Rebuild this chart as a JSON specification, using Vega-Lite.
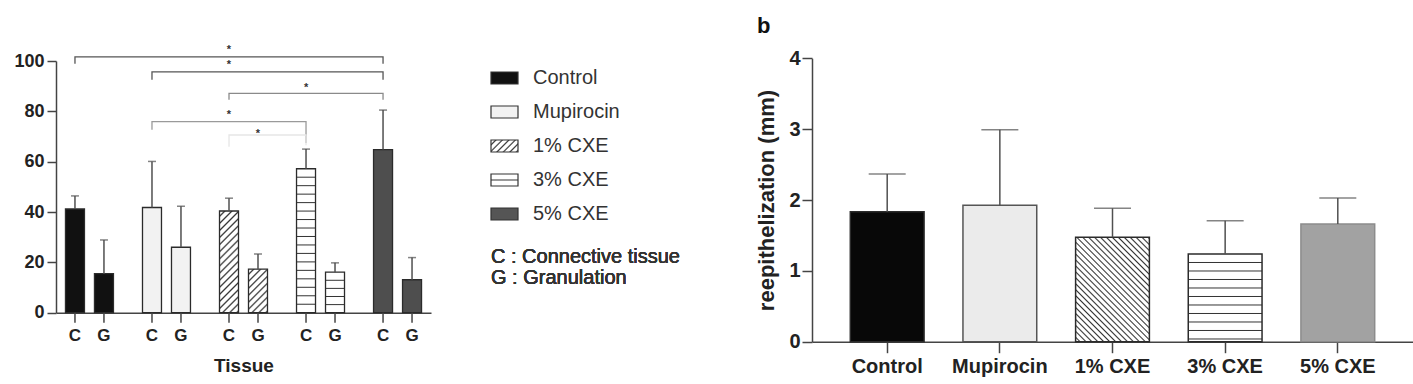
{
  "$schema": "https://vega.github.io/schema/vega-lite/v6.json",
  "width": 1413,
  "height": 384,
  "autosize": "none",
  "padding": 0,
  "background": "white",
  "title": {"text": "b", "anchor": "start", "frame": "group", "fontSize": 22, "fontWeight": "bold", "color": "#111", "dx": 757, "dy": 55, "offset": 0, "baseline": "alphabetic"},
  "config": {"view": {"stroke": null}, "font": "Liberation Sans", "axis": {"grid": false}, "title": {"font": "Liberation Sans"}},
  "datasets": {
    "tissue": [
      {"group": "Control", "tissue": "C", "mean": 41.2, "upper": 46.4},
      {"group": "Control", "tissue": "G", "mean": 15.5, "upper": 28.9},
      {"group": "Mupirocin", "tissue": "C", "mean": 41.8, "upper": 60.1},
      {"group": "Mupirocin", "tissue": "G", "mean": 26.0, "upper": 42.3},
      {"group": "1% CXE", "tissue": "C", "mean": 40.4, "upper": 45.5},
      {"group": "1% CXE", "tissue": "G", "mean": 17.3, "upper": 23.3},
      {"group": "3% CXE", "tissue": "C", "mean": 57.2, "upper": 65.0},
      {"group": "3% CXE", "tissue": "G", "mean": 16.1, "upper": 19.8},
      {"group": "5% CXE", "tissue": "C", "mean": 64.8, "upper": 80.5},
      {"group": "5% CXE", "tissue": "G", "mean": 13.1, "upper": 21.9}
    ],
    "brackets": [
      {"bracket": 1, "group": "Control", "tissue": "C", "level": 98.9, "step": 0},
      {"bracket": 1, "group": "Control", "tissue": "C", "level": 101.6, "step": 1},
      {"bracket": 1, "group": "5% CXE", "tissue": "C", "level": 101.6, "step": 2},
      {"bracket": 1, "group": "5% CXE", "tissue": "C", "level": 98.9, "step": 3},
      {"bracket": 2, "group": "Mupirocin", "tissue": "C", "level": 92.6, "step": 0},
      {"bracket": 2, "group": "Mupirocin", "tissue": "C", "level": 95.7, "step": 1},
      {"bracket": 2, "group": "5% CXE", "tissue": "C", "level": 95.7, "step": 2},
      {"bracket": 2, "group": "5% CXE", "tissue": "C", "level": 92.6, "step": 3},
      {"bracket": 3, "group": "1% CXE", "tissue": "C", "level": 84.6, "step": 0},
      {"bracket": 3, "group": "1% CXE", "tissue": "C", "level": 87.1, "step": 1},
      {"bracket": 3, "group": "5% CXE", "tissue": "C", "level": 87.1, "step": 2},
      {"bracket": 3, "group": "5% CXE", "tissue": "C", "level": 84.6, "step": 3},
      {"bracket": 4, "group": "Mupirocin", "tissue": "C", "level": 72.7, "step": 0},
      {"bracket": 4, "group": "Mupirocin", "tissue": "C", "level": 75.9, "step": 1},
      {"bracket": 4, "group": "3% CXE", "tissue": "C", "level": 75.9, "step": 2},
      {"bracket": 4, "group": "3% CXE", "tissue": "C", "level": 67.4, "step": 3},
      {"bracket": 5, "group": "1% CXE", "tissue": "C", "level": 65.9, "step": 0},
      {"bracket": 5, "group": "1% CXE", "tissue": "C", "level": 70.6, "step": 1},
      {"bracket": 5, "group": "3% CXE", "tissue": "C", "level": 70.6, "step": 2},
      {"bracket": 5, "group": "3% CXE", "tissue": "C", "level": 66.5, "step": 3}
    ],
    "stars": [
      {"group": "1% CXE", "tissue": "C", "level": 105.3},
      {"group": "1% CXE", "tissue": "C", "level": 99.3},
      {"group": "3% CXE", "tissue": "C", "level": 90.2},
      {"group": "1% CXE", "tissue": "C", "level": 79.4},
      {"group": "1% CXE", "tissue": "G", "level": 71.9}
    ],
    "reepi": [
      {"group": "Control", "mean": 1.835, "upper": 2.367},
      {"group": "Mupirocin", "mean": 1.925, "upper": 2.992},
      {"group": "1% CXE", "mean": 1.474, "upper": 1.883},
      {"group": "3% CXE", "mean": 1.238, "upper": 1.708},
      {"group": "5% CXE", "mean": 1.661, "upper": 2.028}
    ],
    "legend": [
      {"label": "Control"},
      {"label": "Mupirocin"},
      {"label": "1% CXE"},
      {"label": "3% CXE"},
      {"label": "5% CXE"}
    ]
  },
  "layer": [
    {
      "data": {"name": "tissue"},
      "layer": [
        {
          "mark": {"type": "bar", "stroke": "#2b2b2b", "strokeWidth": 1.3},
          "encoding": {
            "x": {
              "field": "group", "type": "nominal",
              "scale": {"domain": ["Control", "Mupirocin", "1% CXE", "3% CXE", "5% CXE"], "range": [56, 431], "paddingInner": 0.377, "paddingOuter": 0.123},
              "axis": {"orient": "bottom", "offset": -71.3, "labels": false, "ticks": false, "domainColor": "#444", "domainWidth": 1.5, "title": "Tissue", "titleFontSize": 19, "titleFontWeight": "bold", "titleColor": "#222", "titlePadding": 44}
            },
            "xOffset": {"field": "tissue", "type": "nominal", "scale": {"domain": ["C", "G"], "paddingInner": 0.345, "paddingOuter": 0}},
            "y": {
              "field": "mean", "type": "quantitative",
              "scale": {"domain": [0, 100], "range": [312.7, 61], "nice": false},
              "axis": {"orient": "left", "offset": -56, "values": [0, 20, 40, 60, 80, 100], "title": null, "tickSize": 9, "tickWidth": 1.5, "tickColor": "#444", "domainColor": "#444", "domainWidth": 1.5, "labelFontSize": 18, "labelFontWeight": "bold", "labelColor": "#222", "labelPadding": 3}
            },
            "fill": {
              "condition": [
                {"test": "datum.group === 'Control'", "value": "#111"},
                {"test": "datum.group === 'Mupirocin'", "value": "#f2f2f2"},
                {"test": "datum.group === '5% CXE'", "value": "#4e4e4e"},
                {"test": "datum.group === '1% CXE' && datum.tissue === 'C'", "value": {"gradient": "linear", "x1": 0, "y1": 0, "x2": 0.2145, "y2": 1.147, "stops": [
                  {"offset": 0, "color": "#fff"}, {"offset": 0.0294, "color": "#fff"}, {"offset": 0.0441, "color": "#333"},
                  {"offset": 0.0588, "color": "#fff"}, {"offset": 0.0882, "color": "#fff"}, {"offset": 0.1029, "color": "#333"},
                  {"offset": 0.1176, "color": "#fff"}, {"offset": 0.1471, "color": "#fff"}, {"offset": 0.1618, "color": "#333"},
                  {"offset": 0.1765, "color": "#fff"}, {"offset": 0.2059, "color": "#fff"}, {"offset": 0.2206, "color": "#333"},
                  {"offset": 0.2353, "color": "#fff"}, {"offset": 0.2647, "color": "#fff"}, {"offset": 0.2794, "color": "#333"},
                  {"offset": 0.2941, "color": "#fff"}, {"offset": 0.3235, "color": "#fff"}, {"offset": 0.3382, "color": "#333"},
                  {"offset": 0.3529, "color": "#fff"}, {"offset": 0.3824, "color": "#fff"}, {"offset": 0.3971, "color": "#333"},
                  {"offset": 0.4118, "color": "#fff"}, {"offset": 0.4412, "color": "#fff"}, {"offset": 0.4559, "color": "#333"},
                  {"offset": 0.4706, "color": "#fff"}, {"offset": 0.5, "color": "#fff"}, {"offset": 0.5147, "color": "#333"},
                  {"offset": 0.5294, "color": "#fff"}, {"offset": 0.5588, "color": "#fff"}, {"offset": 0.5735, "color": "#333"},
                  {"offset": 0.5882, "color": "#fff"}, {"offset": 0.6176, "color": "#fff"}, {"offset": 0.6324, "color": "#333"},
                  {"offset": 0.6471, "color": "#fff"}, {"offset": 0.6765, "color": "#fff"}, {"offset": 0.6912, "color": "#333"},
                  {"offset": 0.7059, "color": "#fff"}, {"offset": 0.7353, "color": "#fff"}, {"offset": 0.75, "color": "#333"},
                  {"offset": 0.7647, "color": "#fff"}, {"offset": 0.7941, "color": "#fff"}, {"offset": 0.8088, "color": "#333"},
                  {"offset": 0.8235, "color": "#fff"}, {"offset": 0.8529, "color": "#fff"}, {"offset": 0.8676, "color": "#333"},
                  {"offset": 0.8824, "color": "#fff"}, {"offset": 0.9118, "color": "#fff"}, {"offset": 0.9265, "color": "#333"},
                  {"offset": 0.9412, "color": "#fff"}, {"offset": 0.9706, "color": "#fff"}, {"offset": 0.9853, "color": "#333"},
                  {"offset": 1, "color": "#fff"}]}},
                {"test": "datum.group === '1% CXE'", "value": {"gradient": "linear", "x1": 0, "y1": 0, "x2": 0.527, "y2": 1.2066, "stops": [
                  {"offset": 0, "color": "#fff"}, {"offset": 0.0556, "color": "#fff"}, {"offset": 0.0833, "color": "#333"},
                  {"offset": 0.1111, "color": "#fff"}, {"offset": 0.1667, "color": "#fff"}, {"offset": 0.1944, "color": "#333"},
                  {"offset": 0.2222, "color": "#fff"}, {"offset": 0.2778, "color": "#fff"}, {"offset": 0.3056, "color": "#333"},
                  {"offset": 0.3333, "color": "#fff"}, {"offset": 0.3889, "color": "#fff"}, {"offset": 0.4167, "color": "#333"},
                  {"offset": 0.4444, "color": "#fff"}, {"offset": 0.5, "color": "#fff"}, {"offset": 0.5278, "color": "#333"},
                  {"offset": 0.5556, "color": "#fff"}, {"offset": 0.6111, "color": "#fff"}, {"offset": 0.6389, "color": "#333"},
                  {"offset": 0.6667, "color": "#fff"}, {"offset": 0.7222, "color": "#fff"}, {"offset": 0.75, "color": "#333"},
                  {"offset": 0.7778, "color": "#fff"}, {"offset": 0.8333, "color": "#fff"}, {"offset": 0.8611, "color": "#333"},
                  {"offset": 0.8889, "color": "#fff"}, {"offset": 0.9444, "color": "#fff"}, {"offset": 0.9722, "color": "#333"},
                  {"offset": 1, "color": "#fff"}]}},
                {"test": "datum.group === '3% CXE' && datum.tissue === 'C'", "value": {"gradient": "linear", "x1": 0, "y1": 0, "x2": 0, "y2": 1, "stops": [
                  {"offset": 0.0518, "color": "#fff"}, {"offset": 0.0588, "color": "#333"}, {"offset": 0.0658, "color": "#fff"},
                  {"offset": 0.1106, "color": "#fff"}, {"offset": 0.1176, "color": "#333"}, {"offset": 0.1246, "color": "#fff"},
                  {"offset": 0.1695, "color": "#fff"}, {"offset": 0.1765, "color": "#333"}, {"offset": 0.1835, "color": "#fff"},
                  {"offset": 0.2283, "color": "#fff"}, {"offset": 0.2353, "color": "#333"}, {"offset": 0.2423, "color": "#fff"},
                  {"offset": 0.2871, "color": "#fff"}, {"offset": 0.2941, "color": "#333"}, {"offset": 0.3011, "color": "#fff"},
                  {"offset": 0.3459, "color": "#fff"}, {"offset": 0.3529, "color": "#333"}, {"offset": 0.3599, "color": "#fff"},
                  {"offset": 0.4048, "color": "#fff"}, {"offset": 0.4118, "color": "#333"}, {"offset": 0.4188, "color": "#fff"},
                  {"offset": 0.4636, "color": "#fff"}, {"offset": 0.4706, "color": "#333"}, {"offset": 0.4776, "color": "#fff"},
                  {"offset": 0.5224, "color": "#fff"}, {"offset": 0.5294, "color": "#333"}, {"offset": 0.5364, "color": "#fff"},
                  {"offset": 0.5812, "color": "#fff"}, {"offset": 0.5882, "color": "#333"}, {"offset": 0.5952, "color": "#fff"},
                  {"offset": 0.6401, "color": "#fff"}, {"offset": 0.6471, "color": "#333"}, {"offset": 0.6541, "color": "#fff"},
                  {"offset": 0.6989, "color": "#fff"}, {"offset": 0.7059, "color": "#333"}, {"offset": 0.7129, "color": "#fff"},
                  {"offset": 0.7577, "color": "#fff"}, {"offset": 0.7647, "color": "#333"}, {"offset": 0.7717, "color": "#fff"},
                  {"offset": 0.8165, "color": "#fff"}, {"offset": 0.8235, "color": "#333"}, {"offset": 0.8305, "color": "#fff"},
                  {"offset": 0.8754, "color": "#fff"}, {"offset": 0.8824, "color": "#333"}, {"offset": 0.8894, "color": "#fff"},
                  {"offset": 0.9342, "color": "#fff"}, {"offset": 0.9412, "color": "#333"}, {"offset": 0.9482, "color": "#fff"}]}}
              ],
              "value": {"gradient": "linear", "x1": 0, "y1": 0, "x2": 0, "y2": 1, "stops": [
                {"offset": 0.1753, "color": "#fff"}, {"offset": 0.2, "color": "#333"}, {"offset": 0.2247, "color": "#fff"},
                {"offset": 0.3753, "color": "#fff"}, {"offset": 0.4, "color": "#333"}, {"offset": 0.4247, "color": "#fff"},
                {"offset": 0.5753, "color": "#fff"}, {"offset": 0.6, "color": "#333"}, {"offset": 0.6247, "color": "#fff"},
                {"offset": 0.7753, "color": "#fff"}, {"offset": 0.8, "color": "#333"}, {"offset": 0.8247, "color": "#fff"}]}
            }
          }
        },
        {
          "mark": {"type": "rule", "color": "#505050", "strokeWidth": 1.5},
          "encoding": {
            "x": {"field": "group", "type": "nominal"},
            "xOffset": {"field": "tissue", "type": "nominal"},
            "y": {"field": "mean", "type": "quantitative"},
            "y2": {"field": "upper"}
          }
        },
        {
          "mark": {"type": "tick", "color": "#505050", "size": 8, "thickness": 1.5},
          "encoding": {
            "x": {"field": "group", "type": "nominal"},
            "xOffset": {"field": "tissue", "type": "nominal"},
            "y": {"field": "upper", "type": "quantitative"}
          }
        },
        {
          "mark": {"type": "rule", "color": "#444", "strokeWidth": 1.5},
          "encoding": {
            "x": {"field": "group", "type": "nominal"},
            "xOffset": {"field": "tissue", "type": "nominal"},
            "y": {"datum": 0},
            "y2": {"datum": -4}
          }
        },
        {
          "mark": {"type": "text", "fontSize": 17, "fontWeight": "bold", "color": "#222", "baseline": "middle", "dy": 23},
          "encoding": {
            "x": {"field": "group", "type": "nominal"},
            "xOffset": {"field": "tissue", "type": "nominal"},
            "y": {"datum": 0},
            "text": {"field": "tissue"}
          }
        },
        {
          "data": {"name": "brackets"},
          "mark": {"type": "line", "strokeWidth": 1.3},
          "encoding": {
            "x": {"field": "group", "type": "nominal"},
            "xOffset": {"field": "tissue", "type": "nominal"},
            "y": {"field": "level", "type": "quantitative"},
            "detail": {"field": "bracket"},
            "order": {"field": "step"},
            "stroke": {
              "condition": [
                {"test": "datum.bracket === 3", "value": "#8a8a8a"},
                {"test": "datum.bracket === 4", "value": "#9a9a9a"},
                {"test": "datum.bracket === 5", "value": "#e6e6e6"}
              ],
              "value": "#555"
            }
          }
        },
        {
          "data": {"name": "stars"},
          "mark": {"type": "text", "fontSize": 11, "fontWeight": "bold", "color": "#333", "baseline": "middle", "dy": 2},
          "encoding": {
            "x": {"field": "group", "type": "nominal"},
            "xOffset": {"field": "tissue", "type": "nominal"},
            "y": {"field": "level", "type": "quantitative"},
            "text": {"value": "*"}
          }
        }
      ]
    },
    {
      "data": {"name": "reepi"},
      "layer": [
        {
          "mark": {"type": "bar", "strokeWidth": 1.5},
          "encoding": {
            "x": {
              "field": "group", "type": "nominal",
              "scale": {"domain": ["Control", "Mupirocin", "1% CXE", "3% CXE", "5% CXE"], "range": [812, 1413], "paddingInner": 0.345, "paddingOuter": 0.34},
              "axis": {"orient": "bottom", "offset": -42.3, "title": null, "tickSize": 11, "tickWidth": 1.5, "tickColor": "#444", "domainColor": "#444", "domainWidth": 1.5, "labelFontSize": 20, "labelFontWeight": "bold", "labelColor": "#222", "labelPadding": 4, "labelAngle": 0}
            },
            "y": {
              "field": "mean", "type": "quantitative",
              "scale": {"domain": [0, 4], "range": [341.7, 58.3], "nice": false},
              "axis": {"orient": "left", "offset": -812, "values": [0, 1, 2, 3, 4], "format": "d", "title": "reepithelization (mm)", "titleFontSize": 22, "titleFontWeight": "bold", "titleColor": "#222", "titlePadding": 10, "tickSize": 10, "tickWidth": 1.5, "tickColor": "#444", "domainColor": "#444", "domainWidth": 1.5, "labelFontSize": 20, "labelFontWeight": "bold", "labelColor": "#222", "labelPadding": 2}
            },
            "stroke": {
              "condition": [
                {"test": "datum.group === '5% CXE'", "value": "#8c8c8c"},
                {"test": "datum.group === 'Mupirocin'", "value": "#555"}
              ],
              "value": "#2b2b2b"
            },
            "fill": {
              "condition": [
                {"test": "datum.group === 'Control'", "value": "#080808"},
                {"test": "datum.group === 'Mupirocin'", "value": "#ebebeb"},
                {"test": "datum.group === '5% CXE'", "value": "#a2a2a2"},
                {"test": "datum.group === '1% CXE'", "value": {"gradient": "linear", "x1": 0, "y1": 1, "x2": 0.8062, "y2": -0.1374, "stops": [
                  {"offset": 0, "color": "#fff"}, {"offset": 0.0167, "color": "#fff"}, {"offset": 0.025, "color": "#333"},
                  {"offset": 0.0333, "color": "#fff"}, {"offset": 0.05, "color": "#fff"}, {"offset": 0.0583, "color": "#333"},
                  {"offset": 0.0667, "color": "#fff"}, {"offset": 0.0833, "color": "#fff"}, {"offset": 0.0917, "color": "#333"},
                  {"offset": 0.1, "color": "#fff"}, {"offset": 0.1167, "color": "#fff"}, {"offset": 0.125, "color": "#333"},
                  {"offset": 0.1333, "color": "#fff"}, {"offset": 0.15, "color": "#fff"}, {"offset": 0.1583, "color": "#333"},
                  {"offset": 0.1667, "color": "#fff"}, {"offset": 0.1833, "color": "#fff"}, {"offset": 0.1917, "color": "#333"},
                  {"offset": 0.2, "color": "#fff"}, {"offset": 0.2167, "color": "#fff"}, {"offset": 0.225, "color": "#333"},
                  {"offset": 0.2333, "color": "#fff"}, {"offset": 0.25, "color": "#fff"}, {"offset": 0.2583, "color": "#333"},
                  {"offset": 0.2667, "color": "#fff"}, {"offset": 0.2833, "color": "#fff"}, {"offset": 0.2917, "color": "#333"},
                  {"offset": 0.3, "color": "#fff"}, {"offset": 0.3167, "color": "#fff"}, {"offset": 0.325, "color": "#333"},
                  {"offset": 0.3333, "color": "#fff"}, {"offset": 0.35, "color": "#fff"}, {"offset": 0.3583, "color": "#333"},
                  {"offset": 0.3667, "color": "#fff"}, {"offset": 0.3833, "color": "#fff"}, {"offset": 0.3917, "color": "#333"},
                  {"offset": 0.4, "color": "#fff"}, {"offset": 0.4167, "color": "#fff"}, {"offset": 0.425, "color": "#333"},
                  {"offset": 0.4333, "color": "#fff"}, {"offset": 0.45, "color": "#fff"}, {"offset": 0.4583, "color": "#333"},
                  {"offset": 0.4667, "color": "#fff"}, {"offset": 0.4833, "color": "#fff"}, {"offset": 0.4917, "color": "#333"},
                  {"offset": 0.5, "color": "#fff"}, {"offset": 0.5167, "color": "#fff"}, {"offset": 0.525, "color": "#333"},
                  {"offset": 0.5333, "color": "#fff"}, {"offset": 0.55, "color": "#fff"}, {"offset": 0.5583, "color": "#333"},
                  {"offset": 0.5667, "color": "#fff"}, {"offset": 0.5833, "color": "#fff"}, {"offset": 0.5917, "color": "#333"},
                  {"offset": 0.6, "color": "#fff"}, {"offset": 0.6167, "color": "#fff"}, {"offset": 0.625, "color": "#333"},
                  {"offset": 0.6333, "color": "#fff"}, {"offset": 0.65, "color": "#fff"}, {"offset": 0.6583, "color": "#333"},
                  {"offset": 0.6667, "color": "#fff"}, {"offset": 0.6833, "color": "#fff"}, {"offset": 0.6917, "color": "#333"},
                  {"offset": 0.7, "color": "#fff"}, {"offset": 0.7167, "color": "#fff"}, {"offset": 0.725, "color": "#333"},
                  {"offset": 0.7333, "color": "#fff"}, {"offset": 0.75, "color": "#fff"}, {"offset": 0.7583, "color": "#333"},
                  {"offset": 0.7667, "color": "#fff"}, {"offset": 0.7833, "color": "#fff"}, {"offset": 0.7917, "color": "#333"},
                  {"offset": 0.8, "color": "#fff"}, {"offset": 0.8167, "color": "#fff"}, {"offset": 0.825, "color": "#333"},
                  {"offset": 0.8333, "color": "#fff"}, {"offset": 0.85, "color": "#fff"}, {"offset": 0.8583, "color": "#333"},
                  {"offset": 0.8667, "color": "#fff"}, {"offset": 0.8833, "color": "#fff"}, {"offset": 0.8917, "color": "#333"},
                  {"offset": 0.9, "color": "#fff"}, {"offset": 0.9167, "color": "#fff"}, {"offset": 0.925, "color": "#333"},
                  {"offset": 0.9333, "color": "#fff"}, {"offset": 0.95, "color": "#fff"}, {"offset": 0.9583, "color": "#333"},
                  {"offset": 0.9667, "color": "#fff"}, {"offset": 0.9833, "color": "#fff"}, {"offset": 0.9917, "color": "#333"},
                  {"offset": 1, "color": "#fff"}]}}
              ],
              "value": {"gradient": "linear", "x1": 0, "y1": 0, "x2": 0, "y2": 1, "stops": [
                {"offset": 0.0855, "color": "#fff"}, {"offset": 0.0969, "color": "#333"}, {"offset": 0.1083, "color": "#fff"},
                {"offset": 0.1824, "color": "#fff"}, {"offset": 0.1938, "color": "#333"}, {"offset": 0.2052, "color": "#fff"},
                {"offset": 0.2793, "color": "#fff"}, {"offset": 0.2907, "color": "#333"}, {"offset": 0.3021, "color": "#fff"},
                {"offset": 0.3762, "color": "#fff"}, {"offset": 0.3876, "color": "#333"}, {"offset": 0.399, "color": "#fff"},
                {"offset": 0.4731, "color": "#fff"}, {"offset": 0.4845, "color": "#333"}, {"offset": 0.4959, "color": "#fff"},
                {"offset": 0.57, "color": "#fff"}, {"offset": 0.5814, "color": "#333"}, {"offset": 0.5928, "color": "#fff"},
                {"offset": 0.6669, "color": "#fff"}, {"offset": 0.6783, "color": "#333"}, {"offset": 0.6897, "color": "#fff"},
                {"offset": 0.7638, "color": "#fff"}, {"offset": 0.7752, "color": "#333"}, {"offset": 0.7866, "color": "#fff"},
                {"offset": 0.8607, "color": "#fff"}, {"offset": 0.8721, "color": "#333"}, {"offset": 0.8835, "color": "#fff"},
                {"offset": 0.9576, "color": "#fff"}, {"offset": 0.969, "color": "#333"}, {"offset": 0.9804, "color": "#fff"}]}
            }
          }
        },
        {
          "mark": {"type": "rule", "color": "#505050", "strokeWidth": 1.5},
          "encoding": {
            "x": {"field": "group", "type": "nominal"},
            "y": {"field": "mean", "type": "quantitative"},
            "y2": {"field": "upper"}
          }
        },
        {
          "mark": {"type": "tick", "color": "#505050", "size": 37, "thickness": 1.5},
          "encoding": {
            "x": {"field": "group", "type": "nominal"},
            "y": {"field": "upper", "type": "quantitative"}
          }
        }
      ]
    },
    {
      "data": {"name": "legend"},
      "layer": [
        {
          "mark": {"type": "bar", "stroke": "#333", "strokeWidth": 1.2},
          "encoding": {
            "y": {"field": "label", "type": "nominal", "scale": {"domain": ["Control", "Mupirocin", "1% CXE", "3% CXE", "5% CXE"], "range": [72, 220], "paddingInner": 0.647, "paddingOuter": 0}, "axis": null},
            "x": {"datum": 0, "type": "quantitative", "scale": {"domain": [0, 1], "range": [491, 518]}, "axis": null},
            "x2": {"datum": 1},
            "fill": {
              "condition": [
                {"test": "datum.label === 'Control'", "value": "#111"},
                {"test": "datum.label === 'Mupirocin'", "value": "#f2f2f2"},
                {"test": "datum.label === '5% CXE'", "value": "#555"},
                {"test": "datum.label === '1% CXE'", "value": {"gradient": "linear", "x1": 0, "y1": 0, "x2": 1.2062, "y2": 0.5361, "stops": [
                  {"offset": 0, "color": "#fff"}, {"offset": 0.0833, "color": "#fff"}, {"offset": 0.125, "color": "#333"},
                  {"offset": 0.1667, "color": "#fff"}, {"offset": 0.25, "color": "#fff"}, {"offset": 0.2917, "color": "#333"},
                  {"offset": 0.3333, "color": "#fff"}, {"offset": 0.4167, "color": "#fff"}, {"offset": 0.4583, "color": "#333"},
                  {"offset": 0.5, "color": "#fff"}, {"offset": 0.5833, "color": "#fff"}, {"offset": 0.625, "color": "#333"},
                  {"offset": 0.6667, "color": "#fff"}, {"offset": 0.75, "color": "#fff"}, {"offset": 0.7917, "color": "#333"},
                  {"offset": 0.8333, "color": "#fff"}, {"offset": 0.9167, "color": "#fff"}, {"offset": 0.9583, "color": "#333"},
                  {"offset": 1, "color": "#fff"}]}}
              ],
              "value": {"gradient": "linear", "x1": 0, "y1": 0, "x2": 0, "y2": 1, "stops": [
                {"offset": 0.417, "color": "#fff"}, {"offset": 0.5, "color": "#333"}, {"offset": 0.583, "color": "#fff"}]}
            }
          }
        },
        {
          "mark": {"type": "text", "align": "left", "baseline": "middle", "fontSize": 20, "color": "#333", "dx": 15},
          "encoding": {
            "y": {"field": "label", "type": "nominal"},
            "x": {"datum": 1, "type": "quantitative"},
            "text": {"field": "label"}
          }
        },
        {
          "mark": {"type": "text", "align": "left", "baseline": "middle", "fontSize": 20, "color": "#333", "dy": 43, "lineHeight": 21},
          "encoding": {
            "y": {"datum": "5% CXE", "type": "nominal"},
            "x": {"datum": 0, "type": "quantitative"},
            "text": {"value": ["C : Connective tissue", "G : Granulation"]}
          }
        }
      ]
    }
  ],
  "resolve": {"scale": {"x": "independent", "y": "independent"}, "axis": {"x": "independent", "y": "independent"}}
}
